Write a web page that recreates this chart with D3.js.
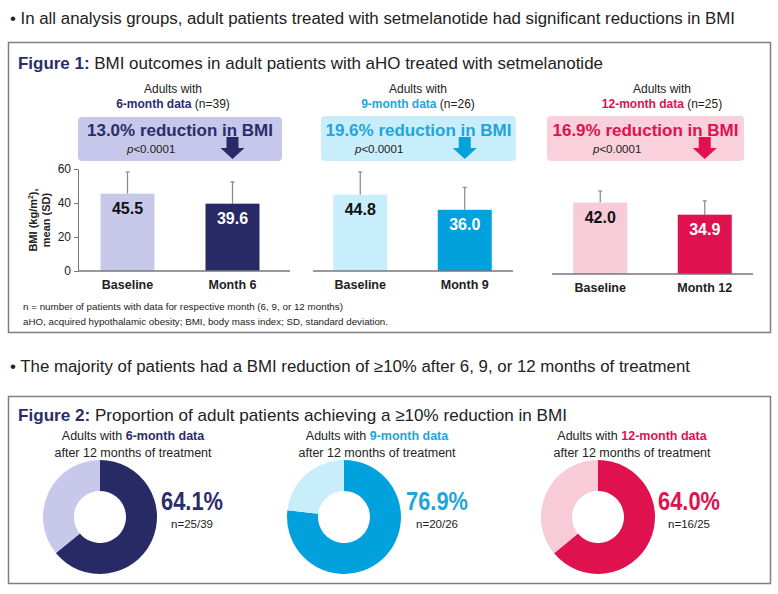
<!DOCTYPE html>
<html>
<head>
<meta charset="utf-8">
<script src="https://cdn.jsdelivr.net/npm/d3@7"></script>
<style>
  body { margin: 0; background: #fff; }
  svg { display: block; font-family: "Liberation Sans", Arial, sans-serif; }
</style>
</head>
<body>
<script>
// ---- data ----
var groupNames = ["6-month data", "9-month data", "12-month data"];
var groupN = [39, 26, 25];
var reductions = ["13.0%", "19.6%", "16.9%"];
var pValues = ["p<0.0001", "p<0.0001", "p<0.0001"];
var timepoints = [["Baseline", "Month 6"], ["Baseline", "Month 9"], ["Baseline", "Month 12"]];
var bmiMean = [[45.5, 39.6], [44.8, 36.0], [42.0, 34.9]];
var bmiSD = [[12.7, 12.8], [13.4, 13.2], [6.8, 8.1]];
var yTicks = [0, 20, 40, 60];
var responders = [25, 20, 16];
var totals = [39, 26, 25];
var pctLabels = ["64.1%", "76.9%", "64.0%"];

// ---- colours ----
var dark = ["#282a66", "#00a1dc", "#e0114f"];
var light = ["#c8c9ea", "#c9eefb", "#f8cbd8"];
var boxFill = ["#c6c7ea", "#c9eefb", "#f9d0dc"];
var accentText = ["#2b2d6b", "#1fa5da", "#e0114f"];

var W = 778, H = 594;
var svg = d3.select("body").append("svg").attr("width", W).attr("height", H);

function txt(x, y, s, size, opts) {
  opts = opts || {};
  var t = svg.append("text")
    .attr("x", x).attr("y", y)
    .attr("font-size", size)
    .attr("fill", opts.fill || "#222")
    .attr("font-weight", opts.bold ? "bold" : "normal")
    .attr("text-anchor", opts.anchor || "start")
    .text(s);
  if (opts.w) t.attr("textLength", opts.w).attr("lengthAdjust", "spacingAndGlyphs");
  return t;
}

// bullets
txt(10, 24, "\u2022 In all analysis groups, adult patients treated with setmelanotide had significant reductions in BMI", 16, {w: 725});
txt(10, 372, "\u2022 The majority of patients had a BMI reduction of \u226510% after 6, 9, or 12 months of treatment", 16, {w: 680});

// frames
svg.append("rect").attr("x", 8.5).attr("y", 42.5).attr("width", 762).attr("height", 290)
  .attr("fill", "none").attr("stroke", "#7d7f86").attr("stroke-width", 1.5);
svg.append("rect").attr("x", 8.5).attr("y", 396.5).attr("width", 762).attr("height", 187)
  .attr("fill", "none").attr("stroke", "#7d7f86").attr("stroke-width", 1.5);

// figure titles
var f1 = txt(18, 69, "", 17);
f1.append("tspan").attr("font-weight", "bold").attr("fill", "#2b2d6b").text("Figure 1: ");
f1.append("tspan").text("BMI outcomes in adult patients with aHO treated with setmelanotide");
f1.attr("textLength", 585).attr("lengthAdjust", "spacingAndGlyphs");

var f2 = txt(18, 421, "", 17);
f2.append("tspan").attr("font-weight", "bold").attr("fill", "#2b2d6b").text("Figure 2: ");
f2.append("tspan").text("Proportion of adult patients achieving a \u226510% reduction in BMI");
f2.attr("textLength", 549).attr("lengthAdjust", "spacingAndGlyphs");

// ---- figure 1: bar panels ----
var panels = [
  {x0: 75, x1: 285, base: 271, axisL: 78, axisR: 290, head: 173, box: [78, 117, 204, 44], pX: 127},
  {x0: 308, x1: 517, base: 271, axisL: 313, axisR: 513, head: 418, box: [321, 116, 195, 45], pX: 355},
  {x0: 548, x1: 757, base: 274, axisL: 552, axisR: 753, head: 662, box: [547, 116, 197, 45], pX: 593}
];

panels.forEach(function(p, i) {
  var x = d3.scalePoint().domain(timepoints[i]).range([p.x0, p.x1]).padding(0.5);
  var y = d3.scaleLinear().domain([0, 60]).range([p.base, p.base - 102]);
  var barW = 54;

  // group header
  txt(p.head, 93, "Adults with", 12, {anchor: "middle"});
  var h = txt(p.head, 108, "", 12, {anchor: "middle"});
  h.append("tspan").attr("font-weight", "bold").attr("fill", accentText[i]).text(groupNames[i]);
  h.append("tspan").text(" (n=" + groupN[i] + ")");

  // result box
  svg.append("rect").attr("x", p.box[0]).attr("y", p.box[1]).attr("width", p.box[2]).attr("height", p.box[3])
    .attr("rx", 4).attr("fill", boxFill[i]);
  txt(p.box[0] + p.box[2] / 2, 136, reductions[i] + " reduction in BMI", 17,
      {anchor: "middle", bold: true, fill: accentText[i], w: 186});
  var pt = txt(p.pX, 153, "", 11.5);
  pt.append("tspan").attr("font-style", "italic").text(pValues[i].charAt(0));
  pt.append("tspan").text(pValues[i].slice(1));

  // arrow above the follow-up bar
  var ax = x(timepoints[i][1]);
  svg.append("path")
    .attr("d", "M" + (ax - 6) + ",137 h12 v11 h6 l-12,11 l-12,-11 h6 z")
    .attr("fill", dark[i]);

  var g = svg.append("g");

  // y axis only on first panel
  if (i === 0) {
    g.append("g")
      .attr("transform", "translate(" + p.axisL + ",0)")
      .call(d3.axisLeft(y).tickValues(yTicks).tickSize(4).tickSizeOuter(0))
      .call(function(a) {
        a.select(".domain").attr("stroke", "#777");
        a.selectAll(".tick line").attr("stroke", "#777");
        a.selectAll("text").attr("font-size", 12).attr("fill", "#222")
          .attr("font-family", "Liberation Sans, Arial, sans-serif");
      });
    var yl = svg.append("text")
      .attr("transform", "translate(37,220) rotate(-90)")
      .attr("text-anchor", "middle").attr("font-size", 11).attr("font-weight", "bold").attr("fill", "#222");
    var t1 = yl.append("tspan").attr("x", 0).attr("y", 0).text("BMI (kg/m");
    t1.append("tspan").attr("font-size", 7).attr("dy", -4).text("2");
    t1.append("tspan").attr("dy", 4).text("),");
    yl.append("tspan").attr("x", 0).attr("y", 13).text("mean (SD)");
  }

  // error bars
  timepoints[i].forEach(function(tp, j) {
    var cx = x(tp), top = y(bmiMean[i][j] + bmiSD[i][j]);
    g.append("line").attr("x1", cx).attr("x2", cx).attr("y1", y(bmiMean[i][j])).attr("y2", top)
      .attr("stroke", "#888").attr("stroke-width", 1.2);
    g.append("line").attr("x1", cx - 2).attr("x2", cx + 2).attr("y1", top).attr("y2", top)
      .attr("stroke", "#888").attr("stroke-width", 1.2);
  });

  // bars
  g.selectAll(".bar").data(timepoints[i]).enter().append("rect")
    .attr("x", function(d) { return x(d) - barW / 2; })
    .attr("y", function(d, j) { return y(bmiMean[i][j]); })
    .attr("width", barW)
    .attr("height", function(d, j) { return p.base - y(bmiMean[i][j]); })
    .attr("fill", function(d, j) { return j === 0 ? light[i] : dark[i]; });

  // value labels
  g.selectAll(".val").data(timepoints[i]).enter().append("text")
    .attr("x", function(d) { return x(d); })
    .attr("y", function(d, j) { return y(bmiMean[i][j]) + 20; })
    .attr("text-anchor", "middle").attr("font-size", 16).attr("font-weight", "bold")
    .attr("fill", function(d, j) { return j === 0 ? "#111" : "#fff"; })
    .text(function(d, j) { return bmiMean[i][j].toFixed(1); });

  // baseline
  g.append("line").attr("x1", p.axisL).attr("x2", p.axisR).attr("y1", p.base).attr("y2", p.base)
    .attr("stroke", "#777").attr("stroke-width", 1.5);

  // x labels
  g.selectAll(".xl").data(timepoints[i]).enter().append("text")
    .attr("x", function(d) { return x(d); })
    .attr("y", p.base + 18)
    .attr("text-anchor", "middle").attr("font-size", 12.5).attr("font-weight", "bold").attr("fill", "#222")
    .text(function(d) { return d; });
});

// footnotes
txt(23, 310, "n = number of patients with data for respective month (6, 9, or 12 months)", 9, {w: 320});
txt(23, 325, "aHO, acquired hypothalamic obesity; BMI, body mass index; SD, standard deviation.", 9, {w: 365});

// ---- figure 2: donuts ----
var donuts = [
  {cx: 100, head: 133, label: 192},
  {cx: 344, head: 377, label: 437},
  {cx: 598, head: 632, label: 689}
];
var cy = 517;
var arc = d3.arc().innerRadius(26).outerRadius(57);
var pie = d3.pie().sort(null).value(function(d) { return d; });

donuts.forEach(function(d, i) {
  var h = txt(d.head, 440, "", 12.5, {anchor: "middle"});
  h.append("tspan").text("Adults with ");
  h.append("tspan").attr("font-weight", "bold").attr("fill", accentText[i]).text(groupNames[i]);
  txt(d.head, 457, "after 12 months of treatment", 12.5, {anchor: "middle"});

  var g = svg.append("g").attr("transform", "translate(" + d.cx + "," + cy + ")");
  g.selectAll("path").data(pie([responders[i], totals[i] - responders[i]])).enter().append("path")
    .attr("d", arc)
    .attr("fill", function(s, j) { return j === 0 ? dark[i] : light[i]; });

  txt(d.label, 510, pctLabels[i], 26, {anchor: "middle", bold: true, fill: accentText[i], w: 62});
  txt(d.label, 528, "n=" + responders[i] + "/" + totals[i], 11.5, {anchor: "middle"});
});
</script>
</body>
</html>
